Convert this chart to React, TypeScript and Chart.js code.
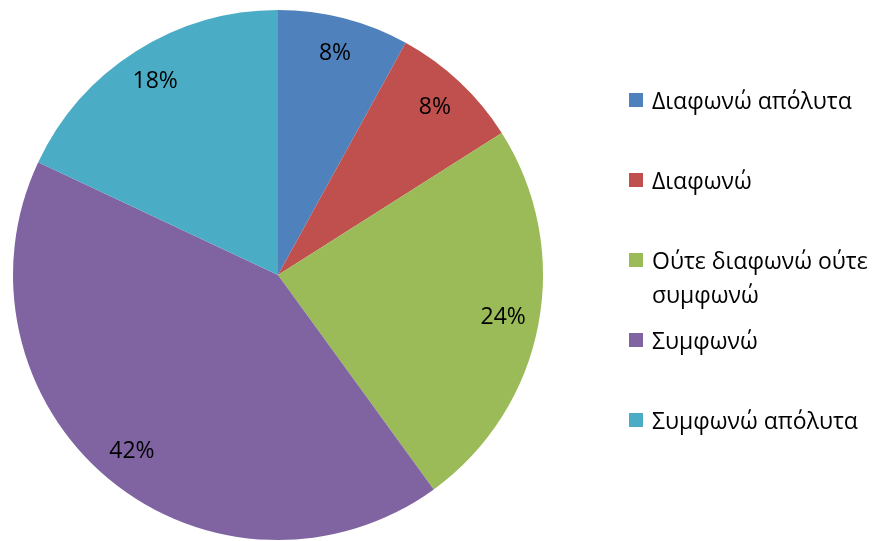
import React, { useEffect, useRef } from "react";
import { Chart, registerables } from "chart.js";
Chart.register(...registerables);

const categories = ["Διαφωνώ απόλυτα", "Διαφωνώ", "Ούτε διαφωνώ ούτε συμφωνώ", "Συμφωνώ", "Συμφωνώ απόλυτα"];
const percentages = [8, 8, 24, 42, 18];
const colors = ["#4F81BD", "#C0504D", "#9BBB59", "#8064A2", "#4BACC6"];

const FONT = '"Open Sans", "Noto Sans", sans-serif';

const labelPlugin = {
  id: "pctLabels",
  afterDatasetsDraw(chart: any) {
    const ctx = chart.ctx;
    const meta = chart.getDatasetMeta(0);
    ctx.save();
    ctx.fillStyle = "#000";
    ctx.font = `23px ${FONT}`;
    ctx.textAlign = "center";
    ctx.textBaseline = "middle";
    meta.data.forEach((arc: any, i: number) => {
      const { x, y, startAngle, endAngle, outerRadius } = arc.getProps(["x", "y", "startAngle", "endAngle", "outerRadius"], true);
      const mid = (startAngle + endAngle) / 2;
      const r = outerRadius * 0.865;
      ctx.fillText(percentages[i] + "%", x + Math.cos(mid) * r, y + Math.sin(mid) * r);
    });
    ctx.restore();
  },
};

export default function App() {
  const ref = useRef<HTMLCanvasElement>(null);
  useEffect(() => {
    const chart = new Chart(ref.current!, {
      type: "pie",
      data: {
        labels: categories,
        datasets: [
          {
            data: percentages,
            backgroundColor: colors,
            borderWidth: 0,
          },
        ],
      },
      options: {
        responsive: false,
        animation: false,
        devicePixelRatio: 1,
        layout: { padding: { left: 13, top: 10, right: 333, bottom: 1 } },
        plugins: {
          legend: { display: false },
          tooltip: { enabled: false },
        },
      },
      plugins: [labelPlugin],
    });
    return () => chart.destroy();
  }, []);

  return (
    <div style={{ position: "fixed", left: 0, top: 0, width: 876, height: 541, background: "#fff", overflow: "hidden" }}>
      <canvas ref={ref} width={876} height={541} style={{ position: "absolute", left: 0, top: 0, width: 876, height: 541 }} />
      {categories.map((c, i) => (
        <div
          key={c}
          style={{
            position: "absolute",
            left: 629,
            top: 83 + i * 80,
            width: 247,
            fontFamily: FONT,
            fontSize: 23,
            lineHeight: "34px",
            color: "#000",
          }}
        >
          <span
            style={{
              position: "absolute",
              left: 0,
              top: 10,
              width: 14,
              height: 14,
              background: colors[i],
            }}
          />
          <div style={{ marginLeft: 23, width: 224, whiteSpace: "normal" }}>{c}</div>
        </div>
      ))}
    </div>
  );
}
